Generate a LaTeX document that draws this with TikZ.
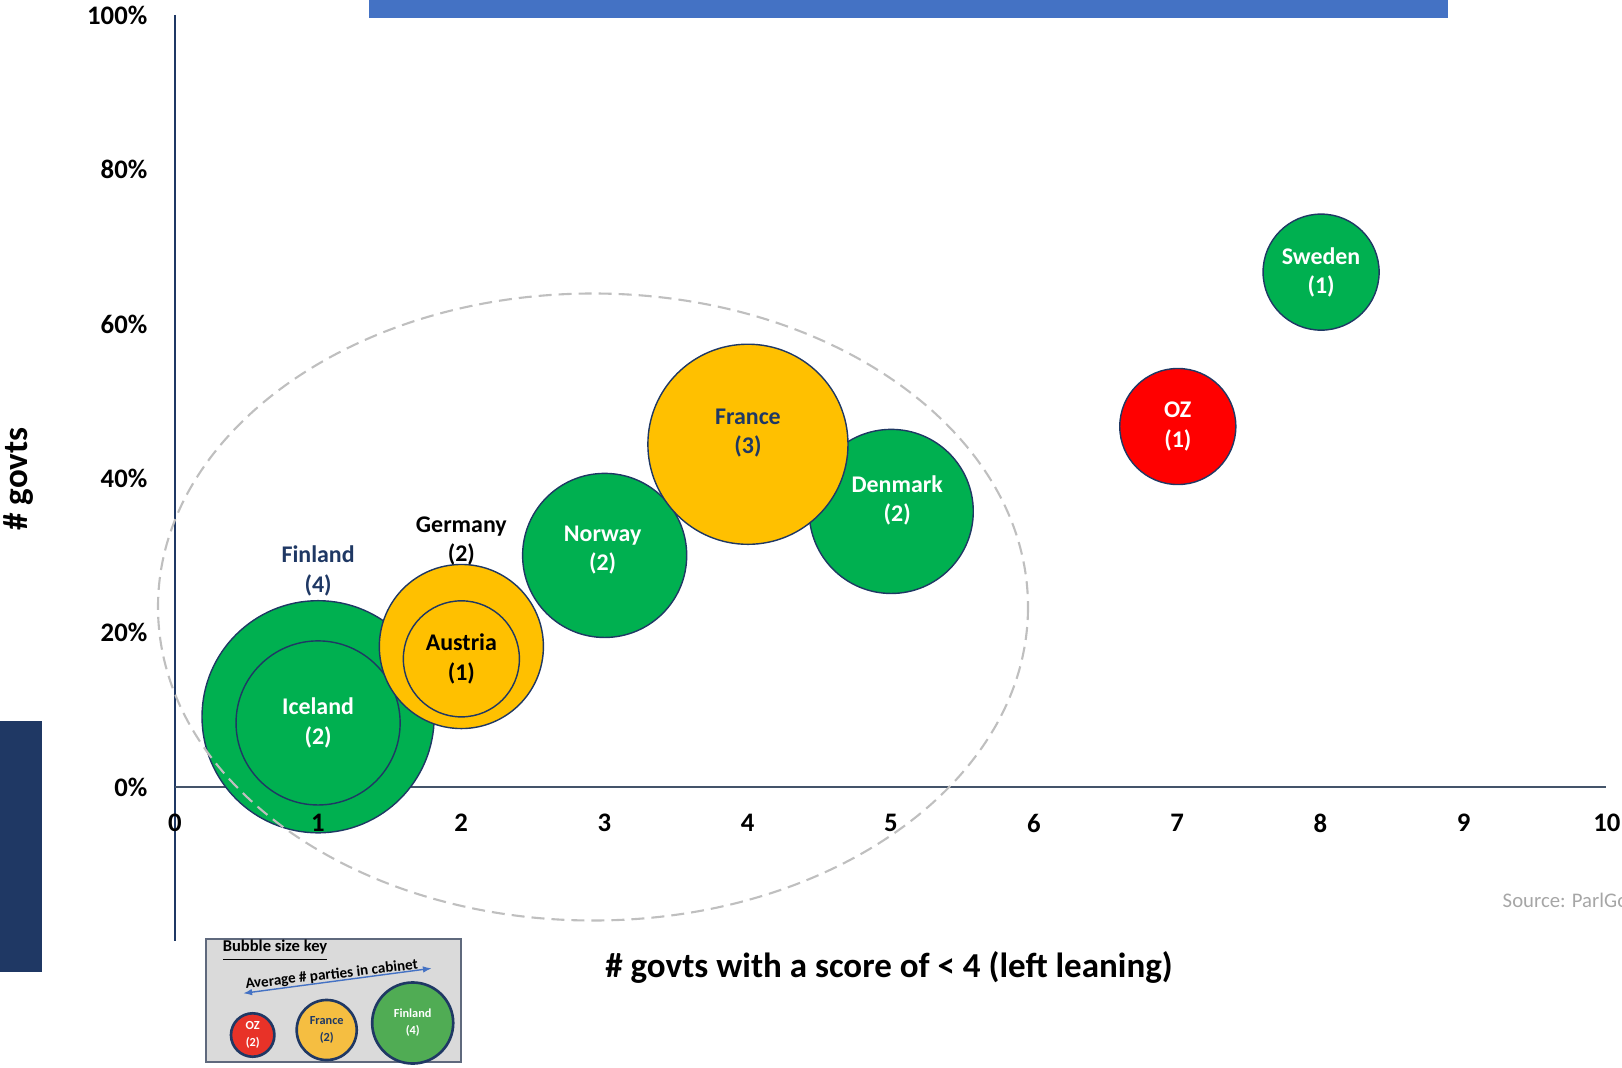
\documentclass[tikz,border=0pt]{standalone}
\usepackage{fontspec}
\setmainfont{Carlito}
\usetikzlibrary{positioning, arrows.meta}
\definecolor{govgreen}{RGB}{0,176,80}
\definecolor{govgold}{RGB}{255,192,0}
\definecolor{govred}{RGB}{255,0,0}
\definecolor{navyline}{RGB}{31,56,100}
\definecolor{axisslate}{RGB}{68,84,106}
\definecolor{bannerblue}{RGB}{68,114,196}
\definecolor{ringgray}{RGB}{191,191,191}
\definecolor{sourcegray}{RGB}{166,166,166}
\definecolor{keygray}{RGB}{218,218,218}
\definecolor{keyborder}{RGB}{95,105,125}
\definecolor{keygreen}{RGB}{80,172,84}
\definecolor{keygold}{RGB}{245,190,65}
\definecolor{keyred}{RGB}{232,50,40}

\begin{document}
\begin{tikzpicture}[
    x=0.01cm, y=-0.01cm,
    bubble/.style={circle, draw=navyline, line width=0.4pt, inner sep=0pt,
                align=center, text=white,
                font=\fontsize{6.8}{8.3}\selectfont\bfseries},
    one/.style={minimum size=1.16cm},
    two/.style={minimum size=1.64cm},
    three/.style={minimum size=2.0cm},
    four/.style={minimum size=2.32cm},
    bubbletext/.style={align=center, inner sep=0pt,
                font=\fontsize{6.8}{8.3}\selectfont\bfseries},
    outlabel/.style={align=center, inner sep=1pt,
                font=\fontsize{6.8}{8.3}\selectfont\bfseries},
    ticklabel/.style={inner sep=0pt, font=\fontsize{7.6}{9}\selectfont\bfseries},
    axistitle/.style={inner sep=0pt, font=\fontsize{9.95}{12}\selectfont\bfseries},
    keybubble/.style={circle, draw=navyline, line width=0.75pt, inner sep=0pt,
                align=center, font=\fontsize{3.5}{4.8}\selectfont\bfseries}
]
    \clip (0,0) rectangle (1622,1067);

    % Banner and side bar
    \fill[bannerblue] (369,0) rectangle (1448,17.6);
    \fill[navyline] (0,721) rectangle (42.4,972);

    % Axes
    \draw[navyline, line width=0.4pt] (174.8,15) -- (174.8,941);
    \draw[axisslate, line width=0.5pt] (174.8,787) -- (1606,787);

    % Bubbles
    \begin{scope}[shift={(174.8,787)}, x=1.432cm, y=0.07715cm]
        \node[bubble, four, fill=govgreen] (finland) at (1,9.1) {};
        \node[bubble, two, fill=govgreen] (iceland) at (1,8.3) {Iceland\\(2)};
        \node[bubble, two, fill=govgold] (germany) at (2,18.2) {};
        \node[bubble, one, fill=govgold, text=black] (austria) at (2,16.6) {Austria\\(1)};
        \node[bubble, two, fill=govgreen] (norway) at (3,30) {};
        \node[bubble, two, fill=govgreen] (denmark) at (5,35.7) {};
        \node[bubble, three, fill=govgold] (france) at (4,44.4) {};
        \node[bubble, one, fill=govred] (oz) at (7,46.7) {OZ\\(1)};
        \node[bubble, one, fill=govgreen] (sweden) at (8,66.7) {Sweden\\(1)};
    \end{scope}
    \node[bubbletext, text=white, yshift=0.05cm, xshift=-0.02cm] (norwaytext) at (norway) {Norway\\(2)};
    \node[bubbletext, text=white, yshift=0.11cm, xshift=0.06cm] (denmarktext) at (denmark) {Denmark\\(2)};
    \node[bubbletext, text=navyline, yshift=0.11cm] (francetext) at (france) {France\\(3)};

    % Labels above nested bubbles
    \node[outlabel, text=navyline, above=0pt of finland] (finlandlabel) {Finland\\(4)};
    \node[outlabel, above=-0.06cm of germany] (germanylabel) {Germany\\(2)};

    % Dashed ring
    \draw[ringgray, line width=0.6pt, dash pattern=on 0.13cm off 0.07cm]
        (593,607) ellipse [x radius=435, y radius=313.5];

    % Tick labels
    \foreach \d in {0,...,10}
        \node[ticklabel] (xt\d) at ({174.8+143.2*\d},823) {\d};
    \foreach \p in {0,20,...,100}
        \node[ticklabel, anchor=east] (yt\p) at (148,{787-7.715*\p}) {\p\%};

    % Axis titles
    \node[axistitle, rotate=90] (ytitle) at (18.6,479) {\# govts};
    \node[axistitle] (xtitle) at (889,967) {\# govts with a score of < 4 (left leaning)};

    % Source
    \node[anchor=west, inner sep=0pt, text=sourcegray, font=\fontsize{5.9}{7}\selectfont]
        (source) at (1502,900) {Source: ParlGov};

    % Bubble size key
    \node[draw=keyborder, fill=keygray, line width=0.6pt, inner sep=0pt,
          minimum width=2.55cm, minimum height=1.23cm] (keybox) at (333.5,1000.5) {};
    \node[inner sep=0pt, font=\fontsize{4.7}{5.6}\selectfont\bfseries]
        (keytitle) at (275,951) {\underline{Bubble size key}};
    \node[inner sep=0pt, rotate=6.5, font=\fontsize{4.3}{5}\selectfont\bfseries]
        (keycaption) at (331.7,975) {Average \# parties in cabinet};
    \coordinate (keyleft) at (243.3,993.3);
    \coordinate (keyright) at (431.7,968.3);
    \draw[bannerblue, line width=0.4pt, {Latex[length=2.5pt]}-{Latex[length=2.5pt]}]
        (keyleft) -- (keyright);
    \node[keybubble, fill=keyred, text=white, minimum size=0.434cm] (keyoz) at (252.7,1035) {OZ\\(2)};
    \node[keybubble, fill=keygold, text=navyline, minimum size=0.6cm] (keyfrance) at (326.7,1030) {France\\(2)};
    \node[keybubble, fill=keygreen, text=white, minimum size=0.81cm] (keyfinland) at (412.7,1023) {Finland\\(4)};
\end{tikzpicture}
\end{document}
